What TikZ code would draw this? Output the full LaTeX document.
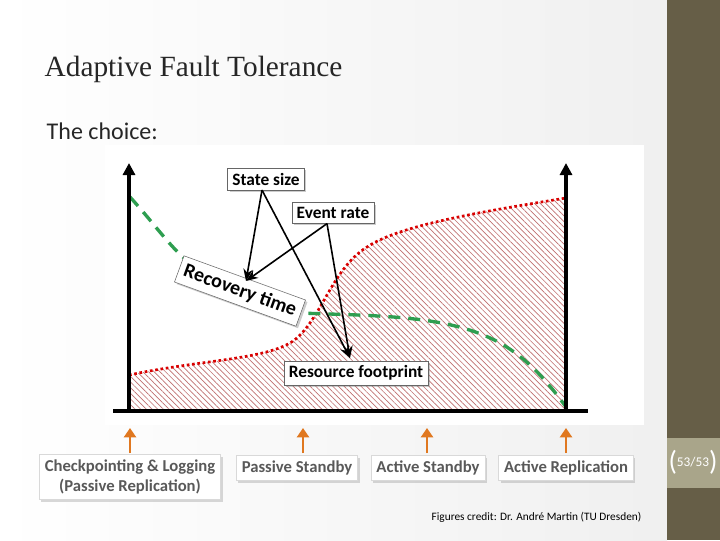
\documentclass[tikz,border=0pt]{standalone}
\usepackage{fontspec}
\setmainfont{Carlito}
\newfontfamily\titlefont{Liberation Serif}
\usetikzlibrary{patterns.meta,arrows.meta,shadows}
\definecolor{side}{HTML}{665E47}
\definecolor{sidel}{HTML}{A9A58A}
\definecolor{fillred}{HTML}{C07070}
\definecolor{gr}{HTML}{2E9E50}
\definecolor{org}{HTML}{E07820}
\tikzset{
 lbl/.style={draw=black!60,fill=white,font=\bfseries\fontsize{13}{15}\selectfont,text=black,inner sep=3.5pt,drop shadow={shadow xshift=1.5pt,shadow yshift=-1.5pt,opacity=0.4}},
 blbl/.style={draw=black!15,fill=white,font=\bfseries\fontsize{12.5}{15}\selectfont,text=black!65,inner sep=4pt,align=center,drop shadow={shadow xshift=1.5pt,shadow yshift=-1.5pt,opacity=0.3}},
 ax/.style={line width=3pt,-{Triangle[length=9pt,width=9pt]}},
 arr/.style={line width=1.2pt,-{Stealth[length=9pt,width=7pt]}},
 oarr/.style={org,line width=2.2pt,-{Triangle[length=7pt,width=9pt]}}
}
\begin{document}
\begin{tikzpicture}[x=0.75pt,y=-0.75pt]
\useasboundingbox (0,0) rectangle (720,540);
\shade[left color=white,right color=black!6] (0,0) rectangle (667,540);
\fill[side] (667,0) rectangle (720,540);
\fill[sidel] (667,438) rectangle (720,488);
\node[text=white,font=\fontsize{9}{10}\selectfont] (pg) at (693,462) {\huge(\normalsize\raisebox{3pt}{53/53}\huge)};
\fill[white] (105,145) rectangle (644,425);
\node[anchor=west,font=\titlefont\fontsize{22}{26}\selectfont,text=black!85] (title) at (40,69) {Adaptive Fault Tolerance};
\node[anchor=west,font=\fontsize{18}{21}\selectfont,text=black!85] (choice) at (42,131) {The choice:};
% hatched area
\fill[pattern={Lines[angle=-45,distance=3pt,line width=0.5pt]},pattern color=fillred] (129,375) .. controls (200,360) and (260,360) .. (290,343) .. controls (320,325) and (330,270) .. (367,247) .. controls (400,225) and (480,212) .. (566,198) -- (566,411) -- (129,411) -- cycle;
\draw[red!85!black,line width=2pt,dotted] (129,375) .. controls (200,360) and (260,360) .. (290,343) .. controls (320,325) and (330,270) .. (367,247) .. controls (400,225) and (480,212) .. (566,198);
\draw[gr,line width=2.5pt,dash pattern=on 9pt off 6pt] (130,197) .. controls (160,230) and (175,255) .. (200,270) .. controls (240,295) and (270,312) .. (300,313) .. controls (380,316) and (450,315) .. (500,343) .. controls (530,360) and (550,385) .. (566,407);
\coordinate (l0) at (129,411); \coordinate (r0) at (566,411);
\coordinate (l1) at (129,163); \coordinate (r1) at (566,163);
\coordinate (h0) at (113,411); \coordinate (h1) at (588,411);
\draw[line width=3pt] (h0) -- (h1);
\draw[ax] (l0) -- (l1);
\draw[ax] (r0) -- (r1);
\node[lbl] (ss) at (266,179) {State size};
\node[lbl] (er) at (333,213) {Event rate};
\node[lbl,rotate=-20,font=\bfseries\fontsize{15}{17}\selectfont,inner sep=4pt] (rt) at (240,291) {Recovery time};
\node[lbl] (rf) at (356,373) {Resource footprint};
\coordinate (t1) at (246,281); \coordinate (t2) at (350,358);
\draw[arr] (ss.south) ++(-4,0) coordinate (s0) (s0) -- (t1);
\draw[arr] (s0) -- (t2);
\draw[arr] (er.south) ++(-6,0) coordinate (e0) (e0) -- (t1);
\draw[arr] (e0) -- (t2);
\node[blbl] (c1) at (130,477) {Checkpointing \& Logging\\(Passive Replication)};
\node[blbl] (c2) at (297,468) {Passive Standby};
\node[blbl] (c3) at (428,468) {Active Standby};
\node[blbl] (c4) at (566,468) {Active Replication};
\foreach \i/\x in {1/130,2/303,3/427,4/566}{
 \coordinate (ob\i) at (\x,453); \coordinate (ot\i) at (\x,428);
 \draw[oarr] (ob\i) -- (ot\i);}
\node[anchor=east,font=\fontsize{8.5}{10}\selectfont] (cr) at (646,517) {Figures credit: Dr. André Martin (TU Dresden)};
\end{tikzpicture}
\end{document}
